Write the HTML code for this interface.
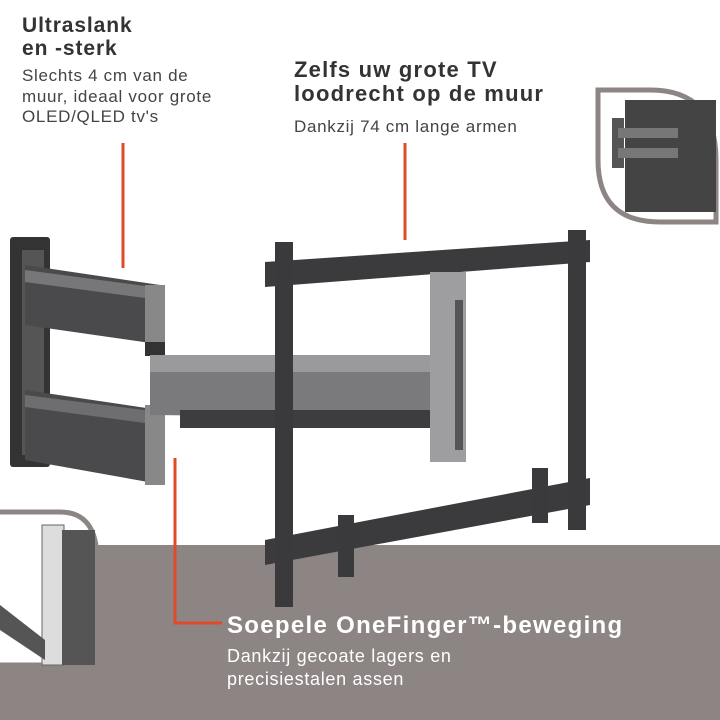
<!DOCTYPE html>
<html><head><style>
body{margin:0;width:720px;height:720px;overflow:hidden;background:#fff;font-family:"Liberation Sans",sans-serif;position:relative}
.t{position:absolute;line-height:1.1;white-space:nowrap}
.b{font-weight:bold;color:#333;font-size:21px;letter-spacing:0.9px}
.n{color:#444;font-size:17px;letter-spacing:0.7px}
</style></head><body>
<svg width="720" height="720" style="position:absolute;left:0;top:0">
<rect x="0" y="545" width="720" height="175" fill="#8c8583"/>
<path d="M598 90 H650 Q716 90 716 160 V222 H660 Q598 222 598 160 Z" fill="#fff" stroke="#8c8583" stroke-width="5"/>
<rect x="625" y="100" width="91" height="112" fill="#444"/>
<rect x="612" y="118" width="12" height="50" fill="#555"/>
<rect x="618" y="128" width="60" height="10" fill="#777"/>
<rect x="618" y="148" width="60" height="10" fill="#777"/>
<path d="M-5 512 H60 Q97 512 97 560 V665 H-5 Z" fill="#fff" stroke="#8c8583" stroke-width="5"/>
<rect x="42" y="525" width="22" height="140" fill="#ddd" stroke="#666"/>
<rect x="62" y="530" width="33" height="135" fill="#555"/>
<path d="M0 605 L45 640 L45 660 L0 630Z" fill="#555"/>
<rect x="10" y="237" width="40" height="230" rx="3" fill="#333"/>
<rect x="22" y="250" width="22" height="205" fill="#555"/>
<path d="M25 265 L160 285 L165 345 L25 325Z" fill="#4a4a4c"/>
<path d="M25 270 L160 288 L160 300 L25 282Z" fill="#77777a"/>
<rect x="145" y="285" width="20" height="65" fill="#888"/>
<path d="M25 390 L160 410 L165 485 L25 460Z" fill="#4a4a4c"/>
<path d="M25 395 L160 412 L160 425 L25 407Z" fill="#6e6e70"/>
<rect x="145" y="405" width="20" height="80" fill="#888"/>
<rect x="145" y="342" width="20" height="14" fill="#333"/>
<path d="M150 355 L435 355 L435 418 L150 415Z" fill="#7a7a7c"/>
<path d="M150 355 L435 355 L435 372 L150 372Z" fill="#9a9a9c"/>
<rect x="180" y="410" width="255" height="18" fill="#3d3d3f"/>
<path d="M265 262 L590 240 L590 262 L265 287Z" fill="#3b3b3d"/>
<path d="M265 540 L590 478 L590 505 L265 565Z" fill="#3b3b3d"/>
<rect x="275" y="242" width="18" height="365" fill="#3a3a3c"/>
<rect x="568" y="230" width="18" height="300" fill="#3a3a3c"/>
<rect x="430" y="272" width="36" height="190" fill="#9e9ea0"/>
<rect x="455" y="300" width="8" height="150" fill="#555"/>
<rect x="338" y="515" width="16" height="62" fill="#3a3a3c"/>
<rect x="532" y="468" width="16" height="55" fill="#3a3a3c"/>
<g stroke="#e04a2a" stroke-width="3" fill="none">
<line x1="123" y1="143" x2="123" y2="268"/>
<line x1="405" y1="143" x2="405" y2="240"/>
<polyline points="175,458 175,623 222,623"/>
</g>
</svg>
<div class="t b" style="left:22px;top:14px">Ultraslank<br>en -sterk</div>
<div class="t n" style="left:22px;top:66px;line-height:1.22">Slechts 4 cm van de<br>muur, ideaal voor grote<br>OLED/QLED tv's</div>
<div class="t b" style="left:294px;top:58px;font-size:22px;letter-spacing:1.2px">Zelfs uw grote TV<br>loodrecht op de muur</div>
<div class="t n" style="left:294px;top:118px">Dankzij 74 cm lange armen</div>
<div class="t b" style="left:227px;top:613px;color:#fff;font-size:24px;letter-spacing:1.3px">Soepele OneFinger™-beweging</div>
<div class="t n" style="left:227px;top:645px;color:#fff;line-height:1.25;font-size:18px">Dankzij gecoate lagers en<br>precisiestalen assen</div>
</body></html>
